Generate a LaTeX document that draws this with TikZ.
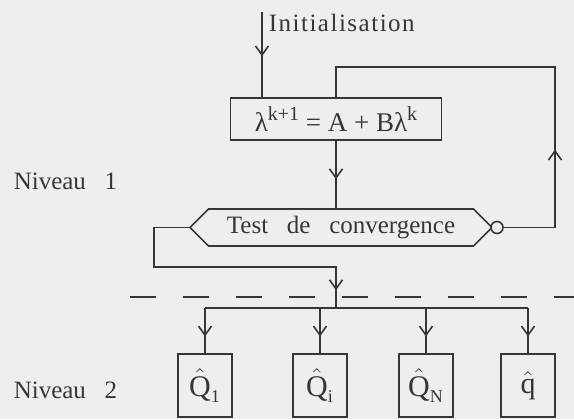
\documentclass[tikz,border=0pt]{standalone}
\usepackage{fontspec}
\setmainfont{Liberation Serif}[WordSpace=3]
\newfontfamily\spacedfont{Liberation Serif}[LetterSpace=6]
\newfontfamily\eqfont{Liberation Serif}
\usetikzlibrary{arrows.meta,decorations.markings,shapes.symbols}
\definecolor{ink}{HTML}{363636}
\definecolor{paper}{HTML}{EEEEEC}
\newcommand{\up}[1]{\raisebox{0.42em}{\fontsize{10}{10}\selectfont #1}}

\begin{document}
\begin{tikzpicture}[x=0.5pt,y=-0.5pt,line width=0.8pt,color=ink,
    font=\fontsize{12.5}{14}\selectfont,
    box node/.style={rectangle,draw,inner sep=0pt},
    var node/.style={box node,minimum width=27pt,minimum height=31.5pt,font=\fontsize{15}{17}\selectfont},
    mid arrow/.style={postaction={decorate},decoration={markings,
        mark=at position #1 with {\arrow{Straight Barb[length=4.5pt,width=6.5pt]}}}}]

    % paper
    \fill[paper] (0,0) rectangle (574,419);
    \useasboundingbox (0,0) rectangle (574,419);

    % niveau 1
    \coordinate (0) at (262,12);
    \node[anchor=west,inner sep=0pt] (1) at (268,23) {\spacedfont Initialisation};
    \node[box node,minimum width=105.5pt,minimum height=21pt] (2) at (336,119)
        {\eqfont\fontsize{13.5}{15}\selectfont λ\up{k+1} = A + Bλ\up{k}};
    \node[signal,signal to=west and east,signal pointer angle=90,draw,inner sep=0pt,
        minimum width=151pt,minimum height=18.5pt] (3) at (341,227.5) {Test de convergence};
    \node[circle,draw,fill=paper,inner sep=0pt,minimum size=6pt] (4) at (497,227.5) {};
    \coordinate (a) at (555,67);
    \coordinate (b) at (154,267);
    \coordinate (c) at (336,308);

    \draw[mid arrow=0.52] (0) -- (0 |- 2.north);
    \draw[mid arrow=0.57] (2.south) -- (2.south |- 3.north);
    \draw[mid arrow=0.28] (4.east) -| (a) -| (2.north);
    \draw[mid arrow=0.94] (3.west) -| (b) -| (c);

    % separation
    \draw[dash pattern=on 13pt off 13.5pt] (130,297) -- (574,297);

    % niveau 2
    \node[var node] (5) at (205,385.5) {$\hat{\mbox{Q}}_{\mbox{\small 1}}$};
    \node[var node] (6) at (320,385.5) {$\hat{\mbox{Q}}_{\mbox{\small i}}$};
    \node[var node] (7) at (426,385.5) {$\hat{\mbox{Q}}_{\mbox{\small N}}$};
    \node[var node] (8) at (528,385.5) {$\hat{\mbox{q}}$};

    \draw (5.north |- c) -- (8.north |- c);
    \foreach \n in {5,...,8}
        \draw[mid arrow=0.63] (\n.north |- c) -- (\n.north);

    \node[anchor=west,inner sep=0pt] (9) at (13,181) {Niveau 1};
    \node[anchor=west,inner sep=0pt] (10) at (13,390) {Niveau 2};
\end{tikzpicture}
\end{document}
